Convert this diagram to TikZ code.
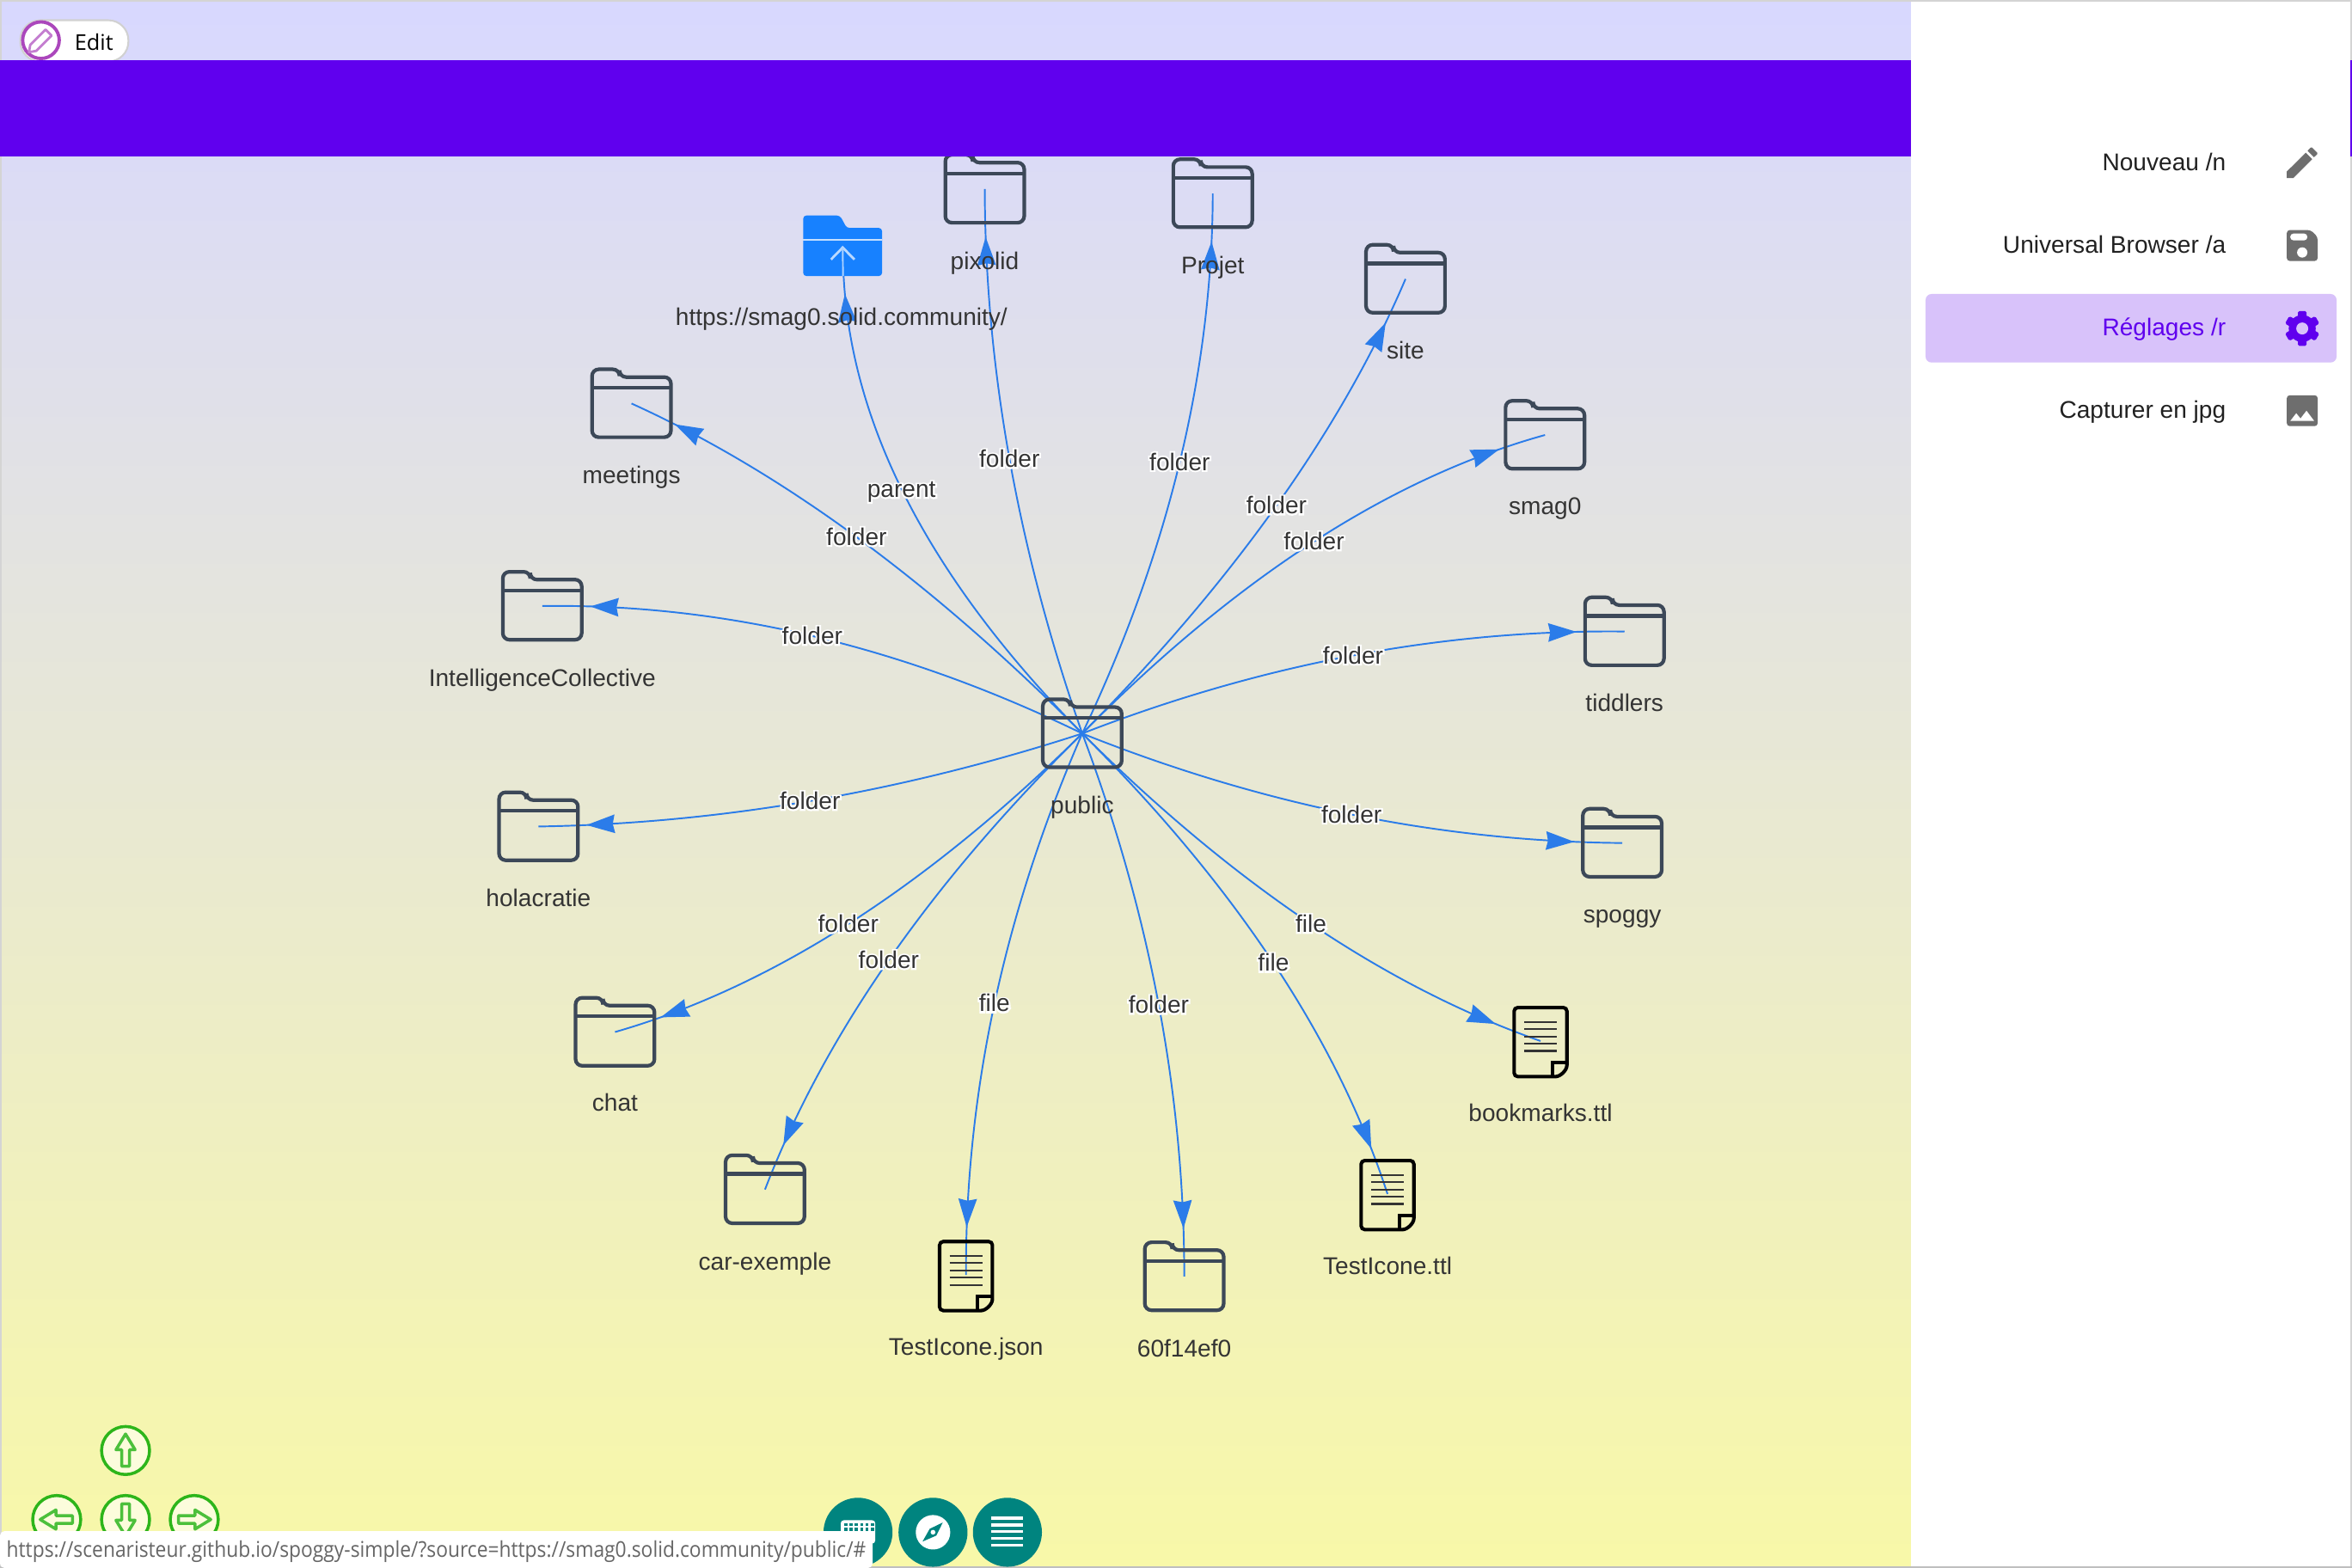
\documentclass[tikz,border=0pt]{standalone}
\usepackage{fontspec}
\usepackage{graphicx}
\usetikzlibrary{calc,decorations.markings}
\setmainfont{Liberation Sans}
\newfontfamily\uifont{Open Sans}
\newfontfamily\halofont[FakeBold=14]{Liberation Sans}
\definecolor{edgecol}{HTML}{2B7CE9}
\definecolor{foldcol}{HTML}{3C4858}
\definecolor{lblcol}{HTML}{343434}
\definecolor{barcol}{HTML}{6000EE}
\definecolor{teal1}{HTML}{00847F}
\definecolor{navgreen}{HTML}{2DB51A}
\definecolor{navfill}{HTML}{FCFCDC}
\definecolor{menuicon}{HTML}{6E6E6E}
\definecolor{hilite}{HTML}{D8C2FA}
\definecolor{blueF}{HTML}{1781FF}
\definecolor{bgtop}{HTML}{D8D8FF}
\definecolor{bgbot}{HTML}{F8F8A8}
\definecolor{editpurple}{HTML}{AB47BC}
\pgfdeclarelayer{top}
\pgfsetlayers{main,top}
\newcommand{\halo}[1]{\rlap{\halofont\color{white}#1}#1}
\newcommand{\lnk}[5]{% id target text mx my
  \coordinate (m#1) at (#4,#5);
  \draw[edgeline] (pub.center) .. controls ($1.3333*(m#1)-0.3333*(#2.center)$) and ($1.3333*(m#1)-0.3333*(pub.center)$) .. (#2.center);
  \begin{pgfonlayer}{top}
    \node[edgelbl] (lab#1) at (m#1) {\halo{#3}};
  \end{pgfonlayer}
}
\newcommand{\foldernode}[5]{% name x y label ly
  \begin{pgfonlayer}{top}
    \pic at (#2,#3) {folderpic};
    \node[nodelbl] (#1-text) at (#2,#5) {#4};
  \end{pgfonlayer}
}
\newcommand{\docnode}[5]{%
  \begin{pgfonlayer}{top}
    \pic at (#2,#3) {docpic};
    \node[nodelbl] (#1-text) at (#2,#5) {#4};
  \end{pgfonlayer}
}
\tikzset{
  iconbox/.style={inner sep=0pt,minimum size=0pt,outer sep=0pt},
  edgeline/.style={draw=edgecol,line width=0.55pt,postaction={decorate},
    decoration={markings,mark=at position -15.9pt with {\fill[edgecol] (0,0) -- (-9.4pt,3.1pt) -- (-8.7pt,0) -- (-9.4pt,-3.1pt) -- cycle;}}},
  edgelbl/.style={font=\fontsize{8}{10}\selectfont,text=lblcol,inner sep=0pt,anchor=base,yshift=-2.73pt},
  nodelbl/.style={font=\fontsize{8}{10}\selectfont,text=lblcol,inner sep=0pt,anchor=base,yshift=-2.73pt},
  menulbl/.style={font=\fontsize{8}{10}\selectfont,text=black!87,inner sep=0pt,anchor=base east,yshift=-2.95pt},
  folderpic/.pic={
    \draw[foldcol,line width=1.2pt,rounded corners=2.2pt] (0,22.5) -- (-26.3,22.5) -- (-26.3,-22.8) -- (-8,-22.8) -- (-8,-17.6) -- (26.3,-17.6) -- (26.3,22.5) -- cycle;
    \draw[foldcol,line width=1.2pt] (-26.3,-10.4) -- (26.3,-10.4);
  },
  docpic/.pic={
    \draw[black,line width=1.15pt,rounded corners=1.2pt] (0,23) -- (-17.6,23) -- (-17.6,-23) -- (17.6,-23) -- (17.6,13) .. controls (17.6,19) and (13,23) .. (7.8,23) -- cycle;
    \draw[black,line width=1.15pt] (7.8,23) -- (7.8,13.4) -- (17.6,13.4);
    \foreach \yy in {-13.4,-8.8,-3.6,1,5.9}
      \draw[black!80,line width=0.65pt] (-10.9,\yy) -- (10.9,\yy);
  },
  navpic/.pic={
    \draw[navgreen,fill=navfill,line width=1pt] (0,0) circle (16);
    \draw[navgreen!85,line width=1pt,line join=round] (0,-11) -- (6.4,-0.5) -- (2.6,-0.5) -- (2.6,10.5) -- (-2.6,10.5) -- (-2.6,-0.5) -- (-6.4,-0.5) -- cycle;
  }
}
\begin{document}
\begin{tikzpicture}[x=0.017449cm,y=-0.017449cm]
\useasboundingbox (0,0) rectangle (1568,1045.33);
\fill[white] (0,0) rectangle (1568,1045.33);
\shade[top color=bgtop,bottom color=bgbot] (0,0) rectangle (1273.8,1045.33);

% graph nodes
\node[iconbox] (pub) at (721.5,489) {};
\node[iconbox] (root) at (562,164) {};
\node[iconbox] (pixolid) at (656.5,126) {};
\node[iconbox] (projet) at (808.5,129) {};
\node[iconbox] (site) at (937,186) {};
\node[iconbox] (smag) at (1030,290) {};
\node[iconbox] (tiddlers) at (1083,421) {};
\node[iconbox] (spoggy) at (1081.5,562) {};
\node[iconbox] (bookmarks) at (1027,694) {};
\node[iconbox] (testttl) at (925,796) {};
\node[iconbox] (sixty) at (789.5,851) {};
\node[iconbox] (testjson) at (644,850) {};
\node[iconbox] (car) at (510,793) {};
\node[iconbox] (chat) at (410,688) {};
\node[iconbox] (hola) at (359,551) {};
\node[iconbox] (intel) at (361.5,404) {};
\node[iconbox] (meetings) at (421,269) {};

% edges
\lnk{a}{meetings}{folder}{571}{358}
\lnk{b}{root}{parent}{601}{326}
\lnk{c}{pixolid}{folder}{673}{306}
\lnk{d}{projet}{folder}{786.5}{308}
\lnk{e}{site}{folder}{851}{337}
\lnk{f}{smag}{folder}{876}{361}
\lnk{g}{tiddlers}{folder}{902}{437}
\lnk{h}{spoggy}{folder}{901}{543}
\lnk{i}{bookmarks}{file}{874}{616}
\lnk{j}{testttl}{file}{849}{642}
\lnk{k}{sixty}{folder}{772.5}{670}
\lnk{l}{testjson}{file}{663}{669}
\lnk{m}{car}{folder}{592.5}{640}
\lnk{n}{chat}{folder}{565.5}{616}
\lnk{o}{hola}{folder}{540}{534}
\lnk{p}{intel}{folder}{541.5}{424}

% node icons and labels
\foldernode{pub}{721.5}{489}{public}{537}
\foldernode{pixolid}{656.5}{126}{pixolid}{174}
\foldernode{projet}{808.5}{129}{Projet}{177}
\foldernode{site}{937}{186}{site}{234}
\foldernode{smag}{1030}{290}{smag0}{337.5}
\foldernode{tiddlers}{1083}{421}{tiddlers}{469}
\foldernode{spoggy}{1081.5}{562}{spoggy}{610}
\docnode{bookmarks}{1027}{694.7}{bookmarks.ttl}{742}
\docnode{testttl}{925}{796.7}{TestIcone.ttl}{844}
\foldernode{sixty}{789.5}{851}{60f14ef0}{899}
\docnode{testjson}{644}{850.7}{TestIcone.json}{898}
\foldernode{car}{510}{793}{car-exemple}{841}
\foldernode{chat}{410}{688}{chat}{735.5}
\foldernode{hola}{359}{551}{holacratie}{599}
\foldernode{intel}{361.5}{404}{IntelligenceCollective}{452}
\foldernode{meetings}{421}{269}{meetings}{317}

\begin{pgfonlayer}{top}
% blue parent folder
\fill[blueF,rounded corners=1pt] (535.5,184) -- (535.5,143.7) -- (560,143.7) -- (564.5,152) -- (588,152) -- (588,184) -- cycle;
\draw[white!75!blueF,line width=0.6pt] (535.5,160) -- (588,160);
\draw[white!70!blueF,line width=0.8pt] (554,173) -- (561.8,165) -- (569.6,173);
\draw[white!65!blueF,line width=0.55pt] (561.8,165) -- (562,184);
\node[nodelbl] (root-text) at (561,211.5) {https://smag0.solid.community/};

% top bar and Edit pill
\draw[black!18,fill=white,line width=0.6pt,rounded corners=6.6pt] (13.5,13.5) rectangle (85.6,41);
\draw[editpurple,line width=1.1pt] (27.3,26.8) circle (12.2);
\draw[editpurple!70,line width=0.8pt,rotate around={45:(27.3,26.8)},line join=round] (20,24) -- (34.5,24) -- (34.5,29.6) -- (20,29.6) -- (16,26.8) -- cycle;
\node[font=\uifont\fontsize{7.2}{9}\selectfont,text=black,inner sep=0pt,anchor=base] (edittext) at (62.6,33.5) {Edit};
\fill[barcol] (0,40.1) rectangle (1273.8,104.1);

% window borders
\fill[black!17] (0,0) rectangle (1568,1);
\fill[black!17] (0,0) rectangle (1,40.1);
\fill[black!17] (0,104.1) rectangle (1,1045.33);
\fill[black!17] (1566.8,0) rectangle (1568,1045.33);
\fill[barcol] (1566.8,40.1) rectangle (1568,104.1);
\fill[black!25] (0,1044.3) rectangle (1568,1045.33);

% side menu
\fill[hilite,rounded corners=2pt] (1283.7,196) rectangle (1557.7,241.7);
\node[menulbl] (m1) at (1484.3,108) {Nouveau /n};
\node[menulbl] (m2) at (1484.3,163) {Universal Browser /a};
\node[menulbl,text=barcol] (m3) at (1484.3,218) {Réglages /r};
\node[menulbl] (m4) at (1484.3,273) {Capturer en jpg};

\begin{scope}[shift={(1534.8,108.4)}]
  \fill[menuicon] (-10.3,6) -- (-10.3,10.3) -- (-6,10.3) -- (6.65,-2.35) -- (2.36,-6.65) -- cycle;
  \fill[menuicon] (3.58,-7.87) -- (7.87,-3.58) -- (10,-5.67) -- (10,-6.6) -- (6.6,-10) -- (5.67,-10) -- cycle;
\end{scope}
\begin{scope}[shift={(1534.8,163.7)}]
  \fill[menuicon,even odd rule,rounded corners=1pt] (-10.3,-10.3) -- (5.7,-10.3) -- (10.3,-5.7) -- (10.3,10.3) -- (-10.3,10.3) -- cycle
     (-8,-8) -- (3.43,-8) -- (3.43,-3.43) -- (-8,-3.43) -- cycle;
  \fill[white] (0,4.6) circle (3.43);
\end{scope}
\begin{scope}[shift={(1534.8,219)}]
  \fill[barcol] (0,0) circle (9);
  \foreach \aa in {90,30,150}
    \fill[barcol,rotate=\aa,rounded corners=0.5pt] (-11.6,-2.9) rectangle (11.6,2.9);
  \fill[hilite] (0,0) circle (4);
\end{scope}
\begin{scope}[shift={(1534.8,273.8)}]
  \fill[menuicon,rounded corners=1pt] (-10.3,-10.3) rectangle (10.3,10.3);
  \fill[white] (-8,6.86) -- (-4,1.7) -- (-1.14,5.16) -- (2.86,0) -- (8,6.86) -- cycle;
\end{scope}

% nav buttons
\pic at (83.7,967) {navpic};
\pic[rotate=90] at (37.8,1013) {navpic};
\pic[rotate=180] at (83.7,1013) {navpic};
\pic[rotate=-90] at (129.5,1013) {navpic};

% round buttons
\fill[teal1] (572,1021.5) circle (23);
\fill[teal1] (622,1021.5) circle (23);
\fill[teal1] (671.6,1021.5) circle (23);
\fill[white,rounded corners=1pt] (560.5,1013.5) rectangle (583.5,1029);
\foreach \cx in {563.5,567,570.5,574,577.5,581}{
  \fill[teal1] (\cx-0.6,1015.5) rectangle +(2.2,2);
  \fill[teal1] (\cx-0.6,1018.6) rectangle +(2.2,2);
}
\fill[white] (622,1021.5) circle (11.5);
\fill[teal1] (628.5,1015) -- (624.2,1023.7) -- (615,1027.7) -- (619.8,1019.2) -- cycle;
\fill[white] (622,1021.5) circle (1.6);
\foreach \by in {1011.9,1016.5,1021,1025.6,1030.2}
  \fill[white] (660.8,\by-1.05) rectangle (682,\by+1.05);

% status bar
\fill[white,rounded corners=1.5pt] (0,1020.7) -- (581.7,1020.7) -- (581.7,1045.33) -- (0,1045.33) -- cycle;
\node[font=\uifont\fontsize{7.2}{9}\selectfont,text=black!60,inner sep=0pt,anchor=base west] (status) at (4,1038) {\scalebox{0.902}[1]{https://scenaristeur.github.io/spoggy-simple/?source=https://smag0.solid.community/public/\#}};
\end{pgfonlayer}
\end{tikzpicture}
\end{document}
